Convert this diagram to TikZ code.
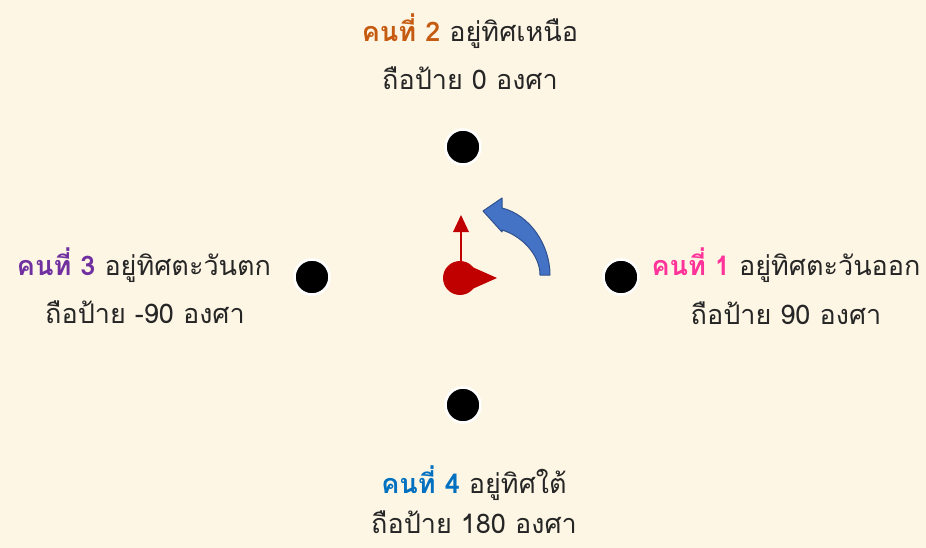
\documentclass[tikz,border=0pt]{standalone}
\usepackage{fontspec}
\newfontfamily\thaifont[Script=Thai]{Loma}
\definecolor{bg}{HTML}{FEF6E4}
\definecolor{robotred}{HTML}{C00000}
\definecolor{arrowblue}{HTML}{4472C4}
\definecolor{arrowedge}{HTML}{2F528F}
\definecolor{porange}{HTML}{C55A11}
\definecolor{ppurple}{HTML}{7030A0}
\definecolor{ppink}{HTML}{FF3399}
\definecolor{pblue}{HTML}{0070C0}
\definecolor{txt}{HTML}{262626}
\tikzset{
  lbl/.style={anchor=base, inner sep=0pt, text=txt, font=\thaifont\fontsize{27}{32}\selectfont},
  person/.style={circle, fill=black, draw=white, line width=2.5pt, minimum size=35pt, inner sep=0pt},
}
\begin{document}
\begin{tikzpicture}[x=1pt,y=-1pt]
\fill[bg] (0,0) rectangle (926,548);
\useasboundingbox (0,0) rectangle (926,548);
% people
\node[person] (p2) at (463,147) {};
\node[person] (p3) at (312,277) {};
\node[person] (p1) at (621,277) {};
\node[person] (p4) at (463,405) {};
% robot
\fill[robotred] (470,266) -- (497,278) -- (470,290) -- cycle;
\node[circle, fill=robotred, minimum size=34pt, inner sep=0pt] (robot) at (460,278) {};
\coordinate (up) at (461,215);
\draw[robotred, line width=2pt] (461,262) -- (461,230);
\fill[robotred] (up) -- (469,232) -- (453,232) -- cycle;
% curved blue arrow
\filldraw[fill=arrowblue, draw=arrowedge, line width=1pt, line join=round]
  (550,275) .. controls (550,245) and (530,215) .. (502,208)
  -- (502,198) -- (483,211) -- (502,232) -- (502,230)
  .. controls (522,236) and (540,255) .. (540,275) -- cycle;
% labels
\node[lbl] (t2a) at (470,42) {\textcolor{porange}{\bfseries คนที่ 2} อยู่ทิศเหนือ};
\node[lbl] (t2b) at (470,90) {ถือป้าย 0 องศา};
\node[lbl] (t3a) at (144,275) {\textcolor{ppurple}{\bfseries คนที่ 3} อยู่ทิศตะวันตก};
\node[lbl] (t3b) at (145,323) {ถือป้าย -90 องศา};
\node[lbl] (t1a) at (786,275) {\textcolor{ppink}{\bfseries คนที่ 1} อยู่ทิศตะวันออก};
\node[lbl] (t1b) at (786,324) {ถือป้าย 90 องศา};
\node[lbl] (t4a) at (474,493) {\textcolor{pblue}{\bfseries คนที่ 4} อยู่ทิศใต้};
\node[lbl] (t4b) at (474,533) {ถือป้าย 180 องศา};
\end{tikzpicture}
\end{document}
